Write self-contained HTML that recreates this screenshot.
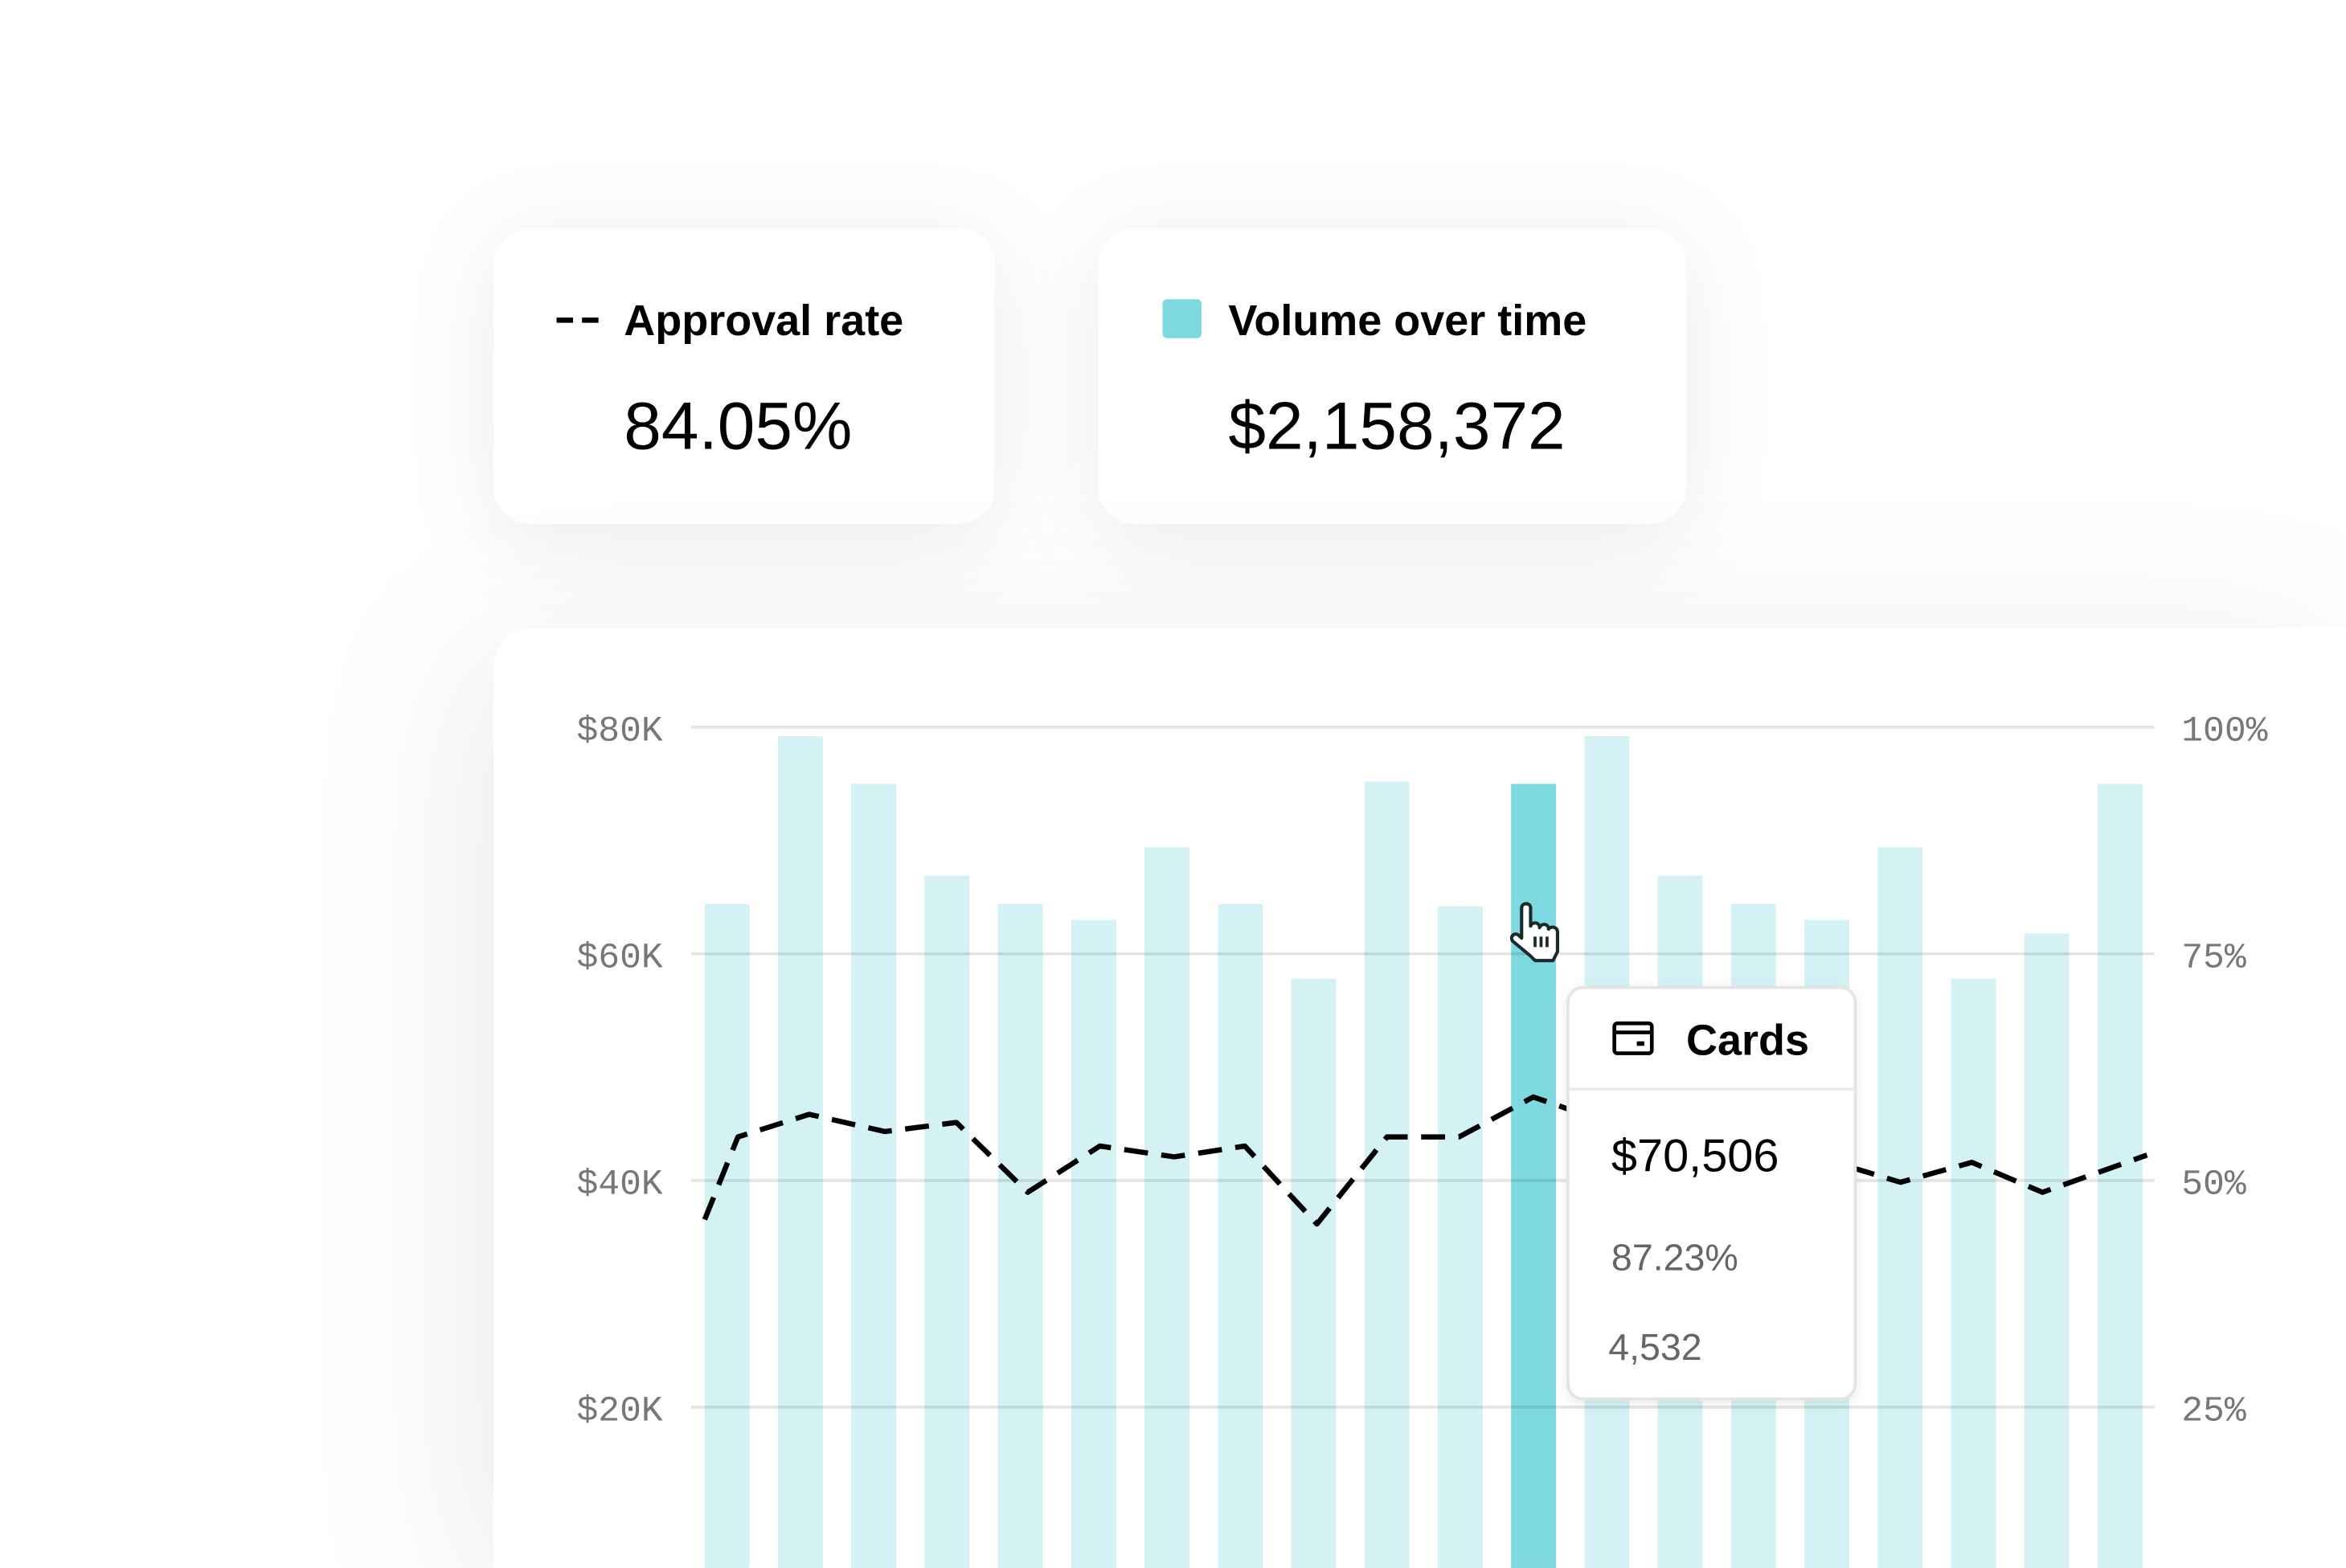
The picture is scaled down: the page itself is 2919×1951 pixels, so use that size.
<!DOCTYPE html>
<html><head><meta charset="utf-8"><style>
html,body{margin:0;padding:0;background:#fff;overflow:hidden;width:2919px;height:1951px}
svg{display:block}
text{font-family:"Liberation Sans",sans-serif}
.mono{font-family:"Liberation Mono",monospace;fill:#777;font-size:24px}
</style></head><body>
<svg id="chart" width="2919" height="1951" viewBox="0 0 1568 1048" xmlns="http://www.w3.org/2000/svg">
<defs>
<filter id="sh" x="-50%" y="-50%" width="200%" height="200%"><feDropShadow dx="0" dy="8" stdDeviation="30" flood-color="#000" flood-opacity="0.08"/></filter>
<filter id="sh2" x="-50%" y="-50%" width="200%" height="200%"><feDropShadow dx="-15" dy="15" stdDeviation="55" flood-color="#000" flood-opacity="0.08"/></filter>
<filter id="sh3" x="-20%" y="-20%" width="140%" height="140%"><feDropShadow dx="0" dy="2" stdDeviation="4" flood-color="#000" flood-opacity="0.08"/></filter>
</defs>
<rect width="1568" height="1048" fill="#fff"/>
<rect x="330" y="153" width="335" height="197" rx="24" fill="#fff" filter="url(#sh)"/>
<rect x="734" y="153" width="393" height="197" rx="24" fill="#fff" filter="url(#sh)"/>
<g>
<line x1="372" y1="214" x2="400" y2="214" stroke="#000" stroke-width="3.5" stroke-dasharray="11,6"/>
<text x="417" y="224" font-size="29" font-weight="bold" fill="#000">Approval rate</text>
<text x="417" y="300" font-size="45" fill="#000">84.05%</text>
</g>
<g>
<rect x="777" y="200" width="26" height="26" rx="3" fill="#7ed8df"/>
<text x="821" y="224" font-size="29" font-weight="bold" fill="#000">Volume over time</text>
<text x="821" y="300" font-size="45" fill="#000">$2,158,372</text>
</g>
<path d="M330,1048 L330,448 Q330,420 358,420 L1568,420 L1568,1048 Z" fill="#fff" filter="url(#sh2)"/>
<g id="bars"></g>
<g id="grid"></g>
<g id="line"></g>
<g transform="translate(1008,603)">
<path d="M9,4 C9,0 15,0 15,4 L15,16 C16,13 21,13 21,17 C22,14 27,14 27,18 C28,16 33,16 33,20 L33,33 L30,39 L18,39 L15,36 L3,26 C1,23 4,20 7,22 L9,24 Z" fill="#fff" stroke="#1a2a2a" stroke-width="2.2" stroke-linejoin="round"/>
<rect x="17" y="23" width="2" height="7" fill="#1a2a2a"/><rect x="21" y="23" width="2" height="7" fill="#1a2a2a"/><rect x="25" y="23" width="2" height="7" fill="#1a2a2a"/>
</g>
<g>
<rect x="1048" y="660" width="192" height="275" rx="10" fill="#fff" stroke="#e4e4e4" stroke-width="2" filter="url(#sh3)"/>
<line x1="1049" y1="728" x2="1239" y2="728" stroke="#ebebeb" stroke-width="2"/>
<g><rect x="1079" y="684" width="25" height="20" rx="2" fill="none" stroke="#000" stroke-width="2.5"/><line x1="1079" y1="690" x2="1104" y2="690" stroke="#000" stroke-width="2.5"/><rect x="1094" y="696" width="5" height="3" fill="#000"/></g>
<text x="1127" y="705" font-size="29" font-weight="bold" fill="#000">Cards</text>
<text x="1077" y="783" font-size="31" fill="#000">$70,506</text>
<text x="1077" y="849" font-size="25" fill="#666">87.23%</text>
<text x="1075" y="909" font-size="25" fill="#666">4,532</text>
</g>
<script>
const barCategories=["1","2","3","4","5","6","7","8","9","10","11","12","13","14","15","16","17","18","19","20"];
const barValues=[64.4,79.2,75.0,66.9,64.4,63.0,69.4,64.4,57.8,75.2,64.2,75.0,79.2,66.9,64.4,63.0,69.4,57.8,61.8,75.0];
const highlightIndex=11;
const lineT=[0,0.46,1.45,2.5,3.49,4.48,5.48,6.51,7.49,8.49,9.46,10.46,11.49,12,13,14,15,16,16.58,17.57,18.55,20];
const lineValues=[45.7,54.8,57.3,55.4,56.4,48.7,53.8,52.6,53.8,45.2,54.8,54.8,59.2,57.8,55.5,54.8,53.2,51.2,49.8,52.0,48.7,52.8];
const leftTicks=[20,40,60,80];
const leftTickLabels=["$20K","$40K","$60K","$80K"];
const rightTickLabels=["25%","50%","75%","100%"];
const NS="http://www.w3.org/2000/svg";
const y0=1092, pxPerK=151.5/20;
function yL(v){return y0-v*pxPerK;}
function yR(p){return y0-p*(151.5/25);}
function xBar(i){return 486+i*49;}
function xLine(t){return 471+t*48.2;}
function mk(tag,attrs,parent){const e=document.createElementNS(NS,tag);for(const k in attrs)e.setAttribute(k,attrs[k]);parent.appendChild(e);return e;}
const grid=document.getElementById('grid');
leftTicks.forEach((v,i)=>{
  const y=yL(v);
  const l=mk('line',{x1:462,x2:1440,y1:y,y2:y,stroke:'#000','stroke-opacity':0.1,'stroke-width':2},grid);
  
  
  const t=mk('text',{x:443,y:y+9,'text-anchor':'end',class:'mono'},grid);t.textContent=leftTickLabels[i];
  
  
  const r=mk('text',{x:1458,y:y+9,class:'mono'},grid);r.textContent=rightTickLabels[i];
  
  
});
const bars=document.getElementById('bars');
barValues.forEach((v,i)=>{
  const y=yL(v);
  const b=mk('rect',{x:xBar(i)-15,y:y,width:30,height:1048-y,fill:i===highlightIndex?'#7ed8df':'#d4f2f4'},bars);
  
  
});
const lg=document.getElementById('line');
const pts=lineValues.map((p,i)=>xLine(lineT[i]).toFixed(1)+','+yR(p).toFixed(1)).join(' ');
const pl=mk('polyline',{points:pts,fill:'none',stroke:'#000','stroke-width':3.5,'stroke-dasharray':'16,9','stroke-linejoin':'round'},lg);


</script>
</svg>
</body></html>
